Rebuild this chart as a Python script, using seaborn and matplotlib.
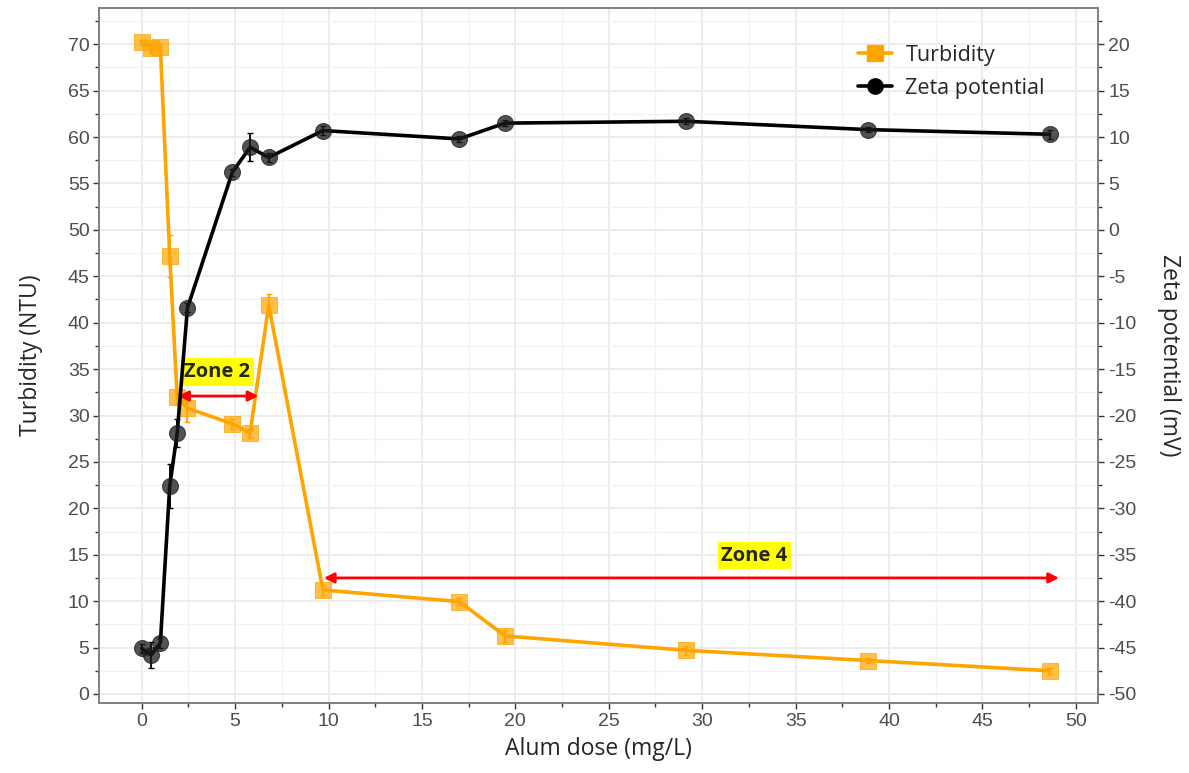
import matplotlib
matplotlib.use("Agg")
import matplotlib.pyplot as plt
import numpy as np
import pandas as pd
import seaborn as sns
from matplotlib.lines import Line2D

### Data
dose = [0, 0.5, 1.0, 1.5, 1.9, 2.45, 4.85, 5.8, 6.8, 9.7, 17.0, 19.45, 29.15, 38.9, 48.6]
turbidity = [70.2, 69.6, 69.7, 47.2, 32.0, 30.8, 29.1, 28.1, 41.9, 11.2, 9.95, 6.25, 4.7, 3.6, 2.5]
turbidity_err = [0.3, 0.5, 0.3, 2.3, 0.8, 1.5, 0.5, 0.5, 1.2, 0.5, 0.4, 0.6, 0.5, 0.3, 0.3]
zeta = [-45.1, -45.8, -44.5, -27.6, -21.9, -8.4, 6.2, 8.9, 7.8, 10.7, 9.8, 11.5, 11.7, 10.8, 10.3]
zeta_err = [0.5, 1.4, 0.5, 2.4, 1.5, 0.5, 0.4, 1.5, 0.5, 0.5, 0.3, 0.3, 0.3, 0.3, 0.5]

zone2 = (1.95, 6.25, 32.1)
zone4 = (9.75, 49.1, 12.5)

ORANGE = "#FFA500"
TICK_GRAY = "#4D4D4D"
TITLE_FONT = ['Open Sans', 'DejaVu Sans']


def main():
    sns.set_theme(style="whitegrid")
    plt.rcParams['font.family'] = ['Liberation Sans', 'DejaVu Sans']
    plt.rcParams['axes.unicode_minus'] = False

    df = pd.DataFrame({"dose": dose, "turb": turbidity, "turb_err": turbidity_err,
                       "zeta": zeta, "zeta_err": zeta_err})

    fig = plt.figure(figsize=(11.89, 7.73), dpi=100)
    ax = fig.add_axes([0.0835, 0.0906, 0.8402, 0.899])
    ax2 = ax.twinx()

    ## turbidity on the left axis
    sns.lineplot(data=df, x="dose", y="turb", ax=ax, color=ORANGE, lw=2.6,
                 marker="s", markersize=11, errorbar=None, zorder=3)
    for l in ax.lines:
        l.set_markerfacecolor((1.0, 0.647, 0.0, 0.7))
        l.set_markeredgecolor((1.0, 0.647, 0.0, 0.7))
    ax.errorbar(df["dose"], df["turb"], yerr=df["turb_err"], fmt="none",
                ecolor=ORANGE, elinewidth=1.3, capsize=2.5, zorder=2)

    ## zeta potential on the right axis
    sns.lineplot(data=df, x="dose", y="zeta", ax=ax2, color="black", lw=2.6,
                 marker="o", markersize=11.5, errorbar=None, zorder=3)
    for l in ax2.lines:
        l.set_markerfacecolor((0.1, 0.1, 0.1, 0.75))
        l.set_markeredgecolor((0.1, 0.1, 0.1, 0.75))
    ax2.errorbar(df["dose"], df["zeta"], yerr=df["zeta_err"], fmt="none",
                 ecolor="black", elinewidth=1.3, capsize=2.5, zorder=2)

    ## axes limits and ticks
    ax.set_xlim(-2.27, 51.2)
    ax.set_ylim(-0.97, 73.9)
    ax2.set_ylim(-50.97, 23.9)
    ax.set_xticks(np.arange(0, 51, 5))
    ax.set_xticks(np.arange(2.5, 51, 5), minor=True)
    ax.set_yticks(np.arange(0, 71, 5))
    ax.set_yticks(np.arange(2.5, 73, 5), minor=True)
    ax2.set_yticks(np.arange(-50, 21, 5))
    ax2.set_yticks(np.arange(-47.5, 23, 5), minor=True)

    ax.grid(True, which="major", color="#EBEBEB", lw=1.3)
    ax.grid(True, which="minor", color="#F2F2F2", lw=1.0)
    ax2.grid(False)

    for a in (ax, ax2):
        a.tick_params(axis="both", which="major", length=4, width=1,
                      color="#333333", labelcolor=TICK_GRAY, labelsize=14,
                      direction="out", pad=3)
        a.tick_params(axis="both", which="minor", length=3, width=1,
                      color="#333333", direction="out")
        for s in a.spines.values():
            s.set_color("#7F7F7F")
            s.set_linewidth(1.2)
    ax.tick_params(axis="y", which="both", left=True)
    ax.tick_params(axis="x", which="both", bottom=True)
    ax2.tick_params(axis="y", which="both", right=True)

    ax.set_xlabel("Alum dose (mg/L)", fontsize=16.5, family=TITLE_FONT, labelpad=5)
    ax.set_ylabel("Turbidity (NTU)", fontsize=16.5, family=TITLE_FONT, labelpad=18)
    ax2.set_ylabel("Zeta potential (mV)", fontsize=16.5, family=TITLE_FONT,
                   rotation=270, labelpad=32)

    ## zone arrows
    arrow = dict(arrowstyle="<|-|>", color="red", lw=2, mutation_scale=15,
                 shrinkA=0, shrinkB=0)
    ax.annotate("", xy=(zone2[0], zone2[2]), xytext=(zone2[1], zone2[2]), arrowprops=arrow, zorder=5)
    ax.annotate("", xy=(zone4[0], zone4[2]), xytext=(zone4[1], zone4[2]), arrowprops=arrow, zorder=5)
    box = dict(boxstyle="square,pad=0.18", fc="yellow", ec="none")
    ax.text(4.05, 34.7, "Zone 2", fontsize=14.5, fontweight="bold", ha="center", va="center",
            family=TITLE_FONT, bbox=box, zorder=6)
    ax.text(32.8, 14.9, "Zone 4", fontsize=14.5, fontweight="bold", ha="center", va="center",
            family=TITLE_FONT, bbox=box, zorder=6)

    ## legend
    handles = [Line2D([], [], color=ORANGE, lw=2.6, marker="s", markersize=12),
               Line2D([], [], color="black", lw=2.6, marker="o", markersize=11)]
    ax2.legend(handles, ["Turbidity", "Zeta potential"], loc="upper left",
               bbox_to_anchor=(0.74, 0.975), frameon=False,
               handlelength=1.6, handletextpad=0.6, labelspacing=0.55,
               prop={"family": TITLE_FONT, "size": 15.5})

    fig.savefig("out.png", dpi=100)


if __name__ == '__main__':
    main()
